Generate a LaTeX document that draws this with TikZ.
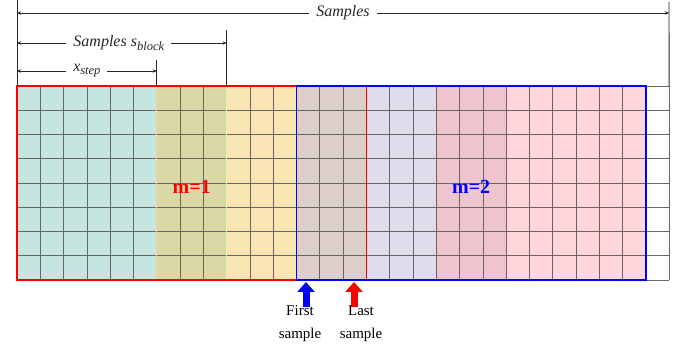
\documentclass[tikz,border=0pt]{standalone}
\usepackage{fontspec}
\setmainfont{Liberation Serif}
\usepackage{xcolor}
\definecolor{blkcyan}{HTML}{C7E5DF}
\definecolor{blkolive}{HTML}{DAD9A6}
\definecolor{blkyellow}{HTML}{FAE5B4}
\definecolor{blkbrown}{HTML}{DCCFC7}
\definecolor{blklilac}{HTML}{DFDDEC}
\definecolor{blkrose}{HTML}{EEC5CE}
\definecolor{blkpink}{HTML}{FFD7DA}
\usepackage{tikz}
\usetikzlibrary{arrows.meta, positioning}
\newcommand{\subit}[1]{\raisebox{-0.45ex}{\fontsize{12.5}{13}\selectfont\textit{#1}}}

\begin{document}
\begin{tikzpicture}[x=1pt, y=1pt,
  dimline/.style={black!85, line width=0.9pt,
    {Stealth[length=4pt,width=3.5pt]}-{Stealth[length=4pt,width=3.5pt]}},
  dimlabel/.style={fill=white, inner xsep=7pt, inner ysep=1pt,
    font=\fontsize{16}{19}\selectfont\itshape},
  mlabel/.style={font=\fontsize{20}{24}\selectfont\bfseries},
  pointer/.style={line width=7pt, -{Triangle[length=10pt,width=17pt]}},
  caption/.style={align=center, font=\fontsize{15}{23}\selectfont}]
  \useasboundingbox (0,0) rectangle (686,358);

  % sample grid: one column per sample
  \begin{scope}[shift={(17,78)}, x=23.29pt, y=24.25pt]
    \fill[blkcyan]   (0,0) rectangle (6,8);
    \fill[blkolive]  (6,0) rectangle (9,8);
    \fill[blkyellow] (9,0) rectangle (12,8);
    \fill[blkbrown]  (12,0) rectangle (15,8);
    \fill[blklilac]  (15,0) rectangle (18,8);
    \fill[blkrose]   (18,0) rectangle (21,8);
    \fill[blkpink]   (21,0) rectangle (27,8);
    \draw[black!60, line width=0.6pt, step={(1,1)}] (0,0) grid (28,8);
    \draw[blkyellow!80!orange, line width=0.8pt] (6,0) -- (6,8);
    \draw[blkolive!60!green!40, line width=0.8pt] (9,0) -- (9,8);
    \draw[black!60, line width=0.9pt] (28,0) -- (28,8);
    % windows m=1 and m=2
    \draw[red, line width=1.7pt] (0,0) rectangle (15,8);
    \draw[blue, line width=1.7pt] (12,0) rectangle (27,8);
    \node[mlabel, red]  (m1) at (7.5,3.85) {m=1};
    \node[mlabel, blue] (m2) at (19.5,3.85) {m=2};
    \coordinate (gTL) at (0,8);
    \coordinate (gTR) at (28,8);
    \coordinate (gStep) at (6,8);
    \coordinate (gBlock) at (9,8);
  \end{scope}

  % dimension lines above the grid
  \coordinate (allL) at (17,345);
  \coordinate (allR) at (669,345);
  \coordinate (blkL) at (17,315);
  \coordinate (blkR) at (gBlock |- blkL);
  \coordinate (stpL) at (17,287);
  \coordinate (stpR) at (gStep |- stpL);
  \draw[black!85, line width=0.9pt] (gTL) -- (17,358);
  \draw[black!85, line width=0.9pt] (gTR) -- (669,356);
  \draw[black!85, line width=0.9pt] (gBlock) -- ++(0,56);
  \draw[black!85, line width=0.9pt] (gStep) -- ++(0,26);
  \draw[dimline] (allL) -- node[dimlabel] (allT) {Samples} (allR);
  \draw[dimline] (blkL) -- node[dimlabel, xshift=-3pt] (blkT)
    {Samples \textit{s}\subit{block}} (blkR);
  \draw[dimline] (stpL) -- node[dimlabel] (stpT)
    {\textit{x}\subit{step}} (stpR);

  % first / last sample pointers
  \node[caption] (first) at (300,34) {First\\sample};
  \node[caption] (last)  at (361,34) {Last\\sample};
  \coordinate (fa0) at (306,51);
  \coordinate (fa1) at (306,76);
  \coordinate (la0) at (354,51);
  \coordinate (la1) at (354,76);
  \draw[pointer, blue] (fa0) -- (fa1);
  \draw[pointer, red]  (la0) -- (la1);
\end{tikzpicture}
\end{document}
